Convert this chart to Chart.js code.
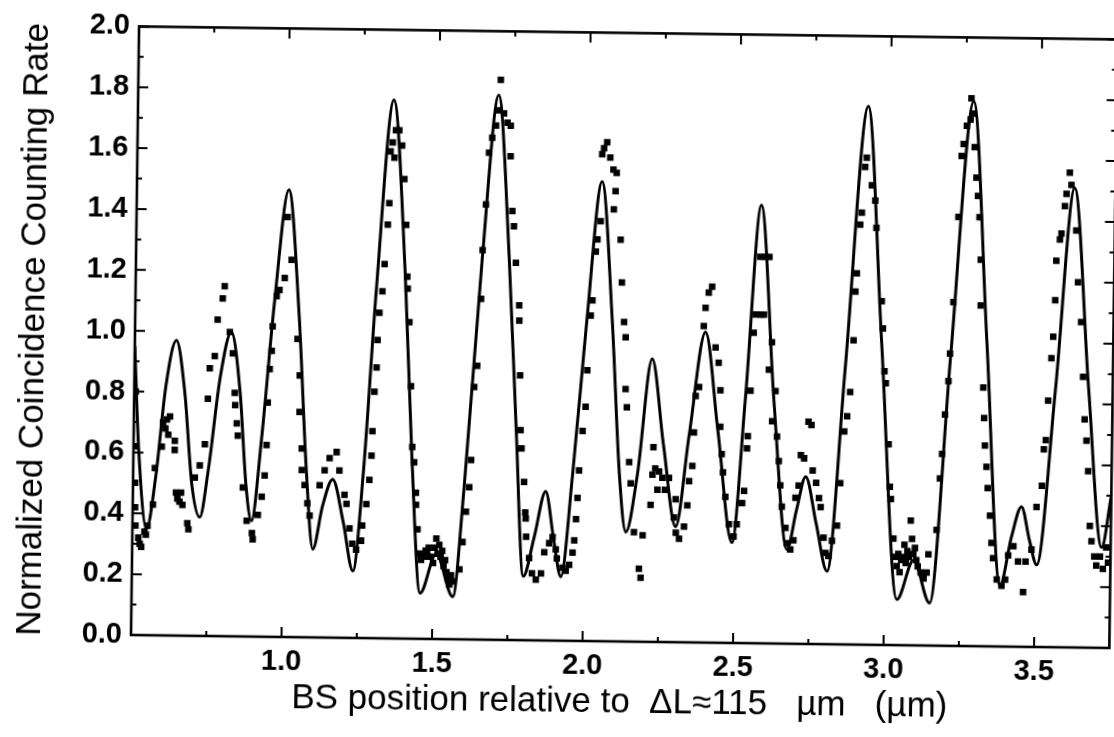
<!DOCTYPE html>
<html><head><meta charset="utf-8">
<script src="https://cdn.jsdelivr.net/npm/chart.js@4.4.1/dist/chart.umd.min.js"></script>
<style>
html,body{margin:0;padding:0;background:#fff;overflow:hidden;width:1114px;height:737px}
canvas{display:block;position:absolute;left:0;top:0;transform-origin:131px 635px;transform:rotate(0.76deg)}
</style>
</head><body>
<canvas id="c" width="1114" height="737"></canvas>
<script>
// ---- fitted theory curve ----
const curveX = [0.500,0.518,0.547,0.575,0.605,0.638,0.668,0.695,0.723,0.750,0.785,0.820,0.852,0.875,0.895,0.925,0.962,1.005,1.045,1.075,1.100,1.130,1.163,1.200,1.234,1.265,1.300,1.350,1.395,1.425,1.458,1.510,1.567,1.600,1.650,1.698,1.740,1.770,1.800,1.835,1.871,1.900,1.925,1.960,2.000,2.045,2.085,2.115,2.139,2.175,2.219,2.260,2.304,2.345,2.395,2.440,2.492,2.530,2.575,2.625,2.675,2.705,2.734,2.770,2.809,2.860,2.926,2.980,3.042,3.096,3.151,3.210,3.276,3.330,3.384,3.420,3.452,3.480,3.505,3.560,3.615,3.670,3.720,3.750];
const curveY = [0.95,0.60,0.35,0.52,0.82,0.97,0.80,0.50,0.39,0.55,0.85,1.00,0.80,0.50,0.38,0.65,1.10,1.47,1.05,0.55,0.29,0.43,0.52,0.38,0.22,0.55,1.15,1.77,1.20,0.60,0.15,0.28,0.14,0.50,1.25,1.79,1.25,0.70,0.21,0.34,0.49,0.33,0.21,0.55,1.05,1.51,1.05,0.55,0.36,0.55,0.93,0.65,0.38,0.68,1.02,0.70,0.33,0.80,1.44,0.80,0.31,0.44,0.55,0.40,0.24,0.90,1.77,1.00,0.15,0.28,0.14,0.95,1.79,1.00,0.20,0.36,0.46,0.35,0.27,0.85,1.51,0.85,0.33,0.50];

const dataX = [0.505,0.505,0.507,0.508,0.510,0.520,0.525,0.530,0.540,0.545,0.550,0.567,0.572,0.594,0.597,0.605,0.610,0.615,0.620,0.637,0.637,0.643,0.648,0.655,0.660,0.665,0.682,0.686,0.705,0.721,0.737,0.745,0.750,0.766,0.774,0.790,0.796,0.815,0.826,0.834,0.836,0.842,0.846,0.865,0.879,0.897,0.900,0.916,0.928,0.937,0.942,0.944,0.949,0.955,0.957,0.969,0.978,0.995,1.002,1.017,1.040,1.049,1.050,1.059,1.060,1.070,1.080,1.088,1.120,1.136,1.152,1.175,1.185,1.203,1.210,1.221,1.231,1.244,1.260,1.263,1.276,1.285,1.291,1.293,1.298,1.304,1.306,1.311,1.320,1.326,1.335,1.339,1.341,1.348,1.354,1.358,1.369,1.379,1.388,1.396,1.402,1.404,1.411,1.419,1.426,1.433,1.440,1.441,1.447,1.455,1.460,1.470,1.475,1.480,1.485,1.490,1.500,1.505,1.510,1.515,1.520,1.525,1.530,1.535,1.540,1.545,1.550,1.555,1.560,1.565,1.588,1.597,1.607,1.617,1.622,1.629,1.638,1.648,1.651,1.660,1.668,1.678,1.690,1.700,1.704,1.716,1.728,1.739,1.740,1.748,1.754,1.762,1.775,1.776,1.781,1.785,1.789,1.799,1.804,1.806,1.808,1.819,1.829,1.842,1.859,1.869,1.885,1.896,1.907,1.911,1.930,1.941,1.952,1.963,1.968,1.973,1.977,1.981,1.991,2.000,2.004,2.013,2.018,2.027,2.032,2.042,2.044,2.050,2.060,2.071,2.082,2.093,2.090,2.085,2.109,2.115,2.124,2.130,2.132,2.137,2.147,2.153,2.166,2.184,2.190,2.195,2.220,2.225,2.227,2.234,2.242,2.247,2.258,2.267,2.280,2.298,2.303,2.305,2.316,2.332,2.342,2.347,2.357,2.361,2.365,2.376,2.389,2.394,2.404,2.415,2.429,2.440,2.447,2.448,2.454,2.459,2.468,2.481,2.497,2.507,2.524,2.530,2.538,2.540,2.547,2.555,2.561,2.577,2.588,2.590,2.574,2.604,2.616,2.607,2.630,2.620,2.637,2.644,2.650,2.656,2.669,2.674,2.686,2.696,2.701,2.711,2.717,2.728,2.741,2.751,2.757,2.769,2.779,2.785,2.796,2.803,2.813,2.824,2.840,2.849,2.860,2.869,2.878,2.887,2.891,2.895,2.904,2.909,2.918,2.923,2.941,2.953,2.958,2.979,2.984,2.991,2.996,3.008,3.014,3.018,3.028,3.035,3.040,3.045,3.050,3.055,3.060,3.065,3.070,3.075,3.080,3.085,3.090,3.095,3.100,3.105,3.110,3.120,3.130,3.140,3.145,3.171,3.180,3.186,3.194,3.204,3.208,3.217,3.230,3.238,3.244,3.254,3.266,3.268,3.274,3.281,3.288,3.294,3.300,3.306,3.308,3.320,3.324,3.328,3.334,3.339,3.348,3.354,3.360,3.373,3.389,3.401,3.410,3.427,3.443,3.461,3.468,3.487,3.502,3.519,3.524,3.530,3.536,3.545,3.550,3.555,3.557,3.568,3.573,3.583,3.588,3.598,3.604,3.622,3.630,3.642,3.651,3.658,3.665,3.672,3.680,3.686,3.696,3.703,3.715,3.725,3.735,3.742];
const dataY = [0.80,0.62,0.50,0.42,0.36,0.32,0.30,0.29,0.34,0.33,0.36,0.43,0.55,0.62,0.70,0.68,0.71,0.66,0.72,0.64,0.61,0.47,0.45,0.44,0.47,0.43,0.37,0.35,0.52,0.56,0.63,0.78,0.88,0.92,1.04,1.11,1.15,1.00,0.93,0.80,0.76,0.70,0.66,0.49,0.38,0.34,0.32,0.40,0.46,0.53,0.63,0.77,0.88,0.94,1.02,1.12,1.14,1.18,1.38,1.24,0.98,0.86,0.74,0.62,0.55,0.50,0.44,0.40,0.50,0.55,0.59,0.61,0.55,0.47,0.44,0.36,0.31,0.29,0.32,0.37,0.44,0.52,0.60,0.68,0.81,0.89,0.98,1.07,1.14,1.23,1.36,1.43,1.60,1.63,1.58,1.67,1.67,1.62,1.51,1.36,1.19,1.15,1.04,0.83,0.63,0.58,0.48,0.44,0.36,0.28,0.26,0.27,0.29,0.28,0.30,0.27,0.25,0.30,0.33,0.28,0.31,0.27,0.29,0.24,0.26,0.22,0.20,0.18,0.21,0.19,0.23,0.32,0.42,0.50,0.59,0.83,0.90,1.12,1.28,1.43,1.60,1.65,1.69,1.74,1.84,1.73,1.70,1.69,1.59,1.41,1.36,1.24,1.10,1.05,0.87,0.69,0.63,0.52,0.42,0.40,0.34,0.27,0.22,0.20,0.22,0.29,0.32,0.34,0.30,0.27,0.24,0.23,0.25,0.29,0.33,0.40,0.47,0.56,0.69,0.77,0.89,1.07,1.12,1.28,1.32,1.38,1.60,1.62,1.64,1.59,1.55,1.54,1.48,1.42,1.32,1.18,1.05,1.00,0.83,0.77,0.59,0.52,0.36,0.24,0.21,0.35,0.45,0.55,0.64,0.57,0.50,0.56,0.54,0.50,0.54,0.41,0.47,0.36,0.34,0.38,0.45,0.53,0.58,0.69,0.81,0.84,1.04,1.10,1.15,1.17,0.97,0.92,0.83,0.71,0.62,0.56,0.48,0.39,0.35,0.39,0.46,0.50,0.64,0.68,0.83,1.02,1.08,1.08,1.08,1.27,1.27,1.27,0.99,0.90,0.83,0.73,0.68,0.60,0.52,0.45,0.38,0.33,0.31,0.34,0.48,0.52,0.62,0.61,0.73,0.72,0.57,0.53,0.48,0.45,0.35,0.30,0.29,0.34,0.39,0.53,0.70,0.75,0.83,1.00,1.16,1.22,1.38,1.42,1.57,1.60,1.51,1.46,1.37,1.13,1.04,0.90,0.86,0.66,0.52,0.48,0.35,0.29,0.26,0.30,0.24,0.28,0.29,0.33,0.27,0.31,0.29,0.41,0.35,0.30,0.32,0.28,0.26,0.24,0.22,0.24,0.30,0.38,0.55,0.63,0.76,0.87,0.96,1.13,1.41,1.61,1.65,1.71,1.73,1.80,1.75,1.64,1.54,1.48,1.41,1.27,1.12,0.85,0.75,0.66,0.59,0.52,0.43,0.34,0.29,0.22,0.20,0.22,0.30,0.33,0.28,0.18,0.28,0.32,0.46,0.53,0.65,0.68,0.81,0.95,1.02,1.14,1.27,1.34,1.36,1.45,1.49,1.56,1.52,1.37,1.20,1.07,0.89,0.75,0.68,0.58,0.40,0.35,0.30,0.27,0.30,0.26,0.33,0.28];

// ---- axes ----
const xTickValues = [1.0,1.5,2.0,2.5,3.0,3.5];
const xTickLabels = ['1.0','1.5','2.0','2.5','3.0','3.5'];
const xMinorTicks = [0.75,1.25,1.75,2.25,2.75,3.25];
const yTickValues = [0,0.2,0.4,0.6,0.8,1.0,1.2,1.4,1.6,1.8,2.0];
const yTickLabels = ['0.0','0.2','0.4','0.6','0.8','1.0','1.2','1.4','1.6','1.8','2.0'];
const yMinorTicks = [0.1,0.3,0.5,0.7,0.9,1.1,1.3,1.5,1.7,1.9];
const xTitle = 'BS position relative to  \u0394L\u2248115   \u00b5m   (\u00b5m)';
const yTitle = 'Normalized Coincidence Counting Rate';

const FONT = "'Liberation Sans', Arial, Helvetica, sans-serif";

const framePlugin = {
  id: 'frame',
  beforeDraw(chart) {
    const c = chart.ctx;
    c.save(); c.fillStyle = '#fff'; c.fillRect(0, 0, chart.width, chart.height); c.restore();
  },
  afterDatasetsDraw(chart) {
    const {ctx, chartArea: a, scales: {x, y}} = chart;
    ctx.save();
    ctx.strokeStyle = '#000';
    ctx.lineWidth = 2.6;
    ctx.strokeRect(a.left, a.top, a.right - a.left, a.bottom - a.top);
    ctx.lineWidth = 2;
    const xt = (v, len) => {
      const p = x.getPixelForValue(v);
      ctx.beginPath();
      ctx.moveTo(p, a.bottom); ctx.lineTo(p, a.bottom - len);
      ctx.moveTo(p, a.top); ctx.lineTo(p, a.top + len);
      ctx.stroke();
    };
    const yt = (v, len) => {
      const p = y.getPixelForValue(v);
      ctx.beginPath();
      ctx.moveTo(a.left, p); ctx.lineTo(a.left + len, p);
      ctx.moveTo(a.right, p); ctx.lineTo(a.right - len, p);
      ctx.stroke();
    };
    xTickValues.forEach(v => xt(v, 10));
    xMinorTicks.forEach(v => xt(v, 5));
    yTickValues.forEach(v => yt(v, 10));
    yMinorTicks.forEach(v => yt(v, 5));
    ctx.restore();
  }
};

new Chart(document.getElementById('c'), {
  type: 'scatter',
  data: {
    datasets: [
      {
        type: 'line',
        data: curveX.map((v, i) => ({x: v, y: curveY[i]})),
        borderColor: '#000',
        borderWidth: 3,
        pointRadius: 0,
        fill: false,
        cubicInterpolationMode: 'monotone'
      },
      {
        type: 'scatter',
        data: dataX.map((v, i) => ({x: v, y: dataY[i]})),
        pointStyle: 'rect',
        pointRadius: 4.6,
        backgroundColor: '#000',
        borderWidth: 0,
        showLine: false
      }
    ]
  },
  options: {
    responsive: false,
    animation: false,
    devicePixelRatio: 1,
    layout: {padding: {top: 21.6, right: 2.8, left: 0, bottom: 0}},
    plugins: {legend: {display: false}, tooltip: {enabled: false}},
    scales: {
      x: {
        type: 'linear', min: 0.5, max: 3.75,
        afterBuildTicks: s => { s.ticks = xTickValues.map(v => ({value: v})); },
        afterFit: s => { s.height = 102; },
        grid: {display: false, drawTicks: false},
        border: {display: false},
        ticks: {
          autoSkip: false, maxRotation: 0, padding: 8, color: '#000',
          font: {family: FONT, size: 29, weight: 'bold'},
          callback: v => xTickLabels[xTickValues.indexOf(v)]
        },
        title: {display: true, text: xTitle, color: '#000',
          font: {family: FONT, size: 35, lineHeight: 1}, padding: {top: 0, bottom: 23.5}}
      },
      y: {
        type: 'linear', min: 0, max: 2.0,
        afterBuildTicks: s => { s.ticks = yTickValues.map(v => ({value: v})); },
        afterFit: s => { s.width = 131; },
        grid: {display: false, drawTicks: false},
        border: {display: false},
        ticks: {
          autoSkip: false, padding: 9, color: '#000',
          font: {family: FONT, size: 29, weight: 'bold'},
          callback: v => yTickLabels[yTickValues.indexOf(v)]
        },
        title: {display: true, text: yTitle, color: '#000',
          font: {family: FONT, size: 35, lineHeight: 1}, padding: {top: 12.5, bottom: 0}}
      }
    }
  },
  plugins: [framePlugin]
});
</script>
</body></html>
